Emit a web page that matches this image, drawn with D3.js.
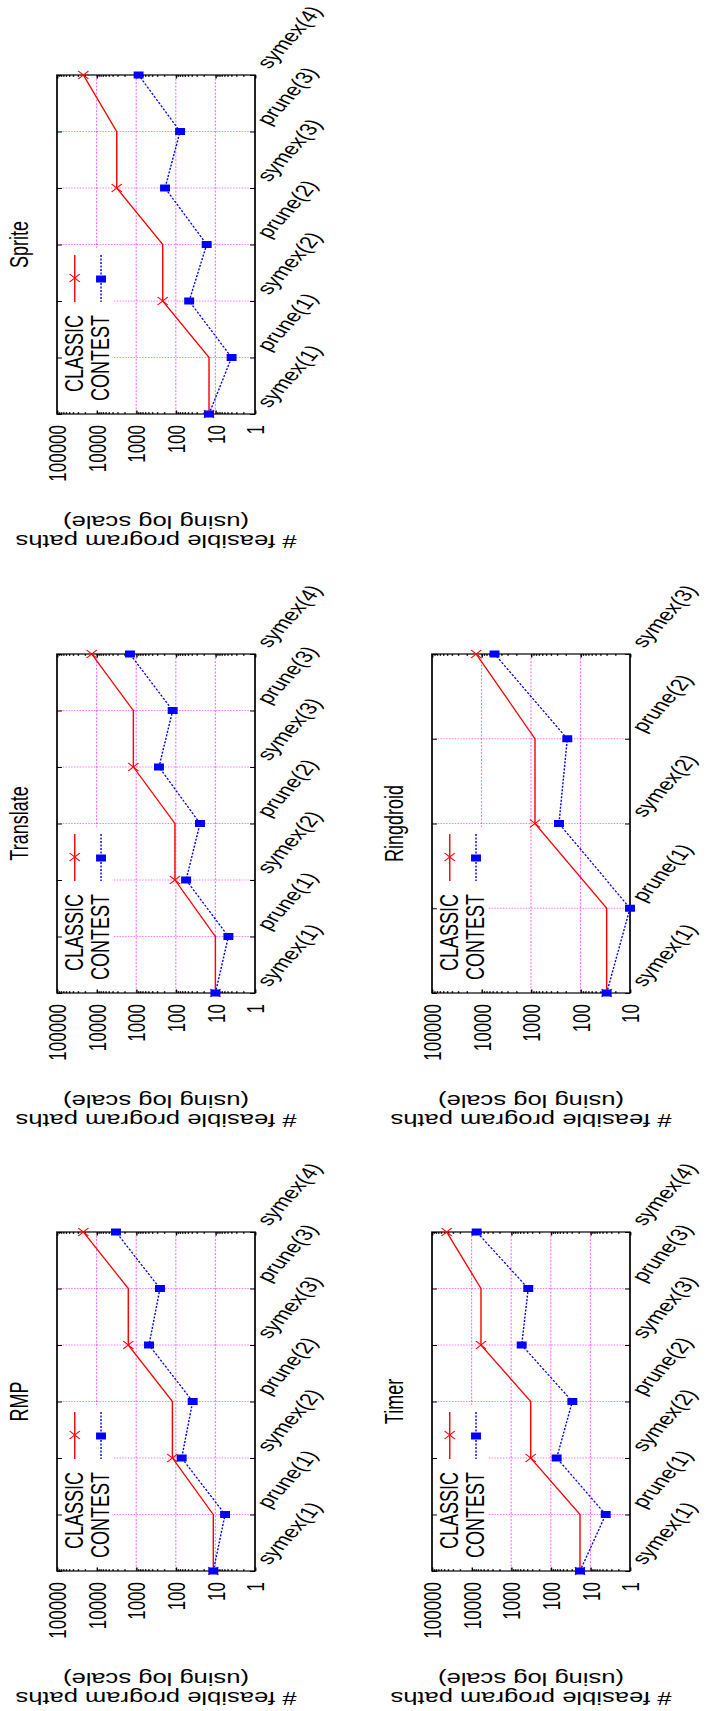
<!DOCTYPE html>
<html>
<head>
<meta charset="utf-8">
<script src="https://cdn.jsdelivr.net/npm/d3@7"></script>
<style>
  body { margin: 0; background: #fff; }
  text { font-family: "Liberation Sans", Arial, Helvetica, sans-serif; }
</style>
</head>
<body>
<div id="chart"></div>
<script>
// ----------------------------------------
// DATA

var stepsLong = ["symex(1)", "prune(1)", "symex(2)", "prune(2)", "symex(3)", "prune(3)", "symex(4)"];
var stepsShort = ["symex(1)", "prune(1)", "symex(2)", "prune(2)", "symex(3)"];
var ticksLong = [1, 10, 100, 1000, 10000, 100000];
var ticksShort = [10, 100, 1000, 10000, 100000];
var seriesNames = ["CLASSIC", "CONTEST"];

var spriteClassic = [14.5, 14.5, 214, 214, 3100, 3100, 21600];
var spriteContest = [14.5, 3.9, 46, 16.6, 187, 78, 870];

var translateClassic = [10, 10, 105, 105, 1180, 1180, 13300];
var translateContest = [10, 4.7, 55, 24.5, 266, 120, 1440];

var ringdroidClassic = [29.6, 29.6, 830, 830, 12800];
var ringdroidContest = [29.6, 10, 272, 185, 5460];

var rmpClassic = [11.3, 11.3, 122, 122, 1585, 1585, 21600];
var rmpContest = [11.3, 5.7, 71, 37.5, 475, 251, 3240];

var timerClassic = [18.3, 18.3, 322, 322, 5800, 5800, 42600];
var timerContest = [18.3, 4.1, 71, 28.6, 544, 371, 7450];

// ----------------------------------------
// LAYOUT

var SX = 1.42;          // the whole page is stretched sideways
var W = 198 / SX;       // inner box width
var H = 339;            // inner box height
var keyW = 56 / SX;
var keyTop = 173;

var panels = [
  {title: "Sprite", steps: stepsLong, ticks: ticksLong, classic: spriteClassic, contest: spriteContest, left: 57, top: 75},
  {title: "Translate", steps: stepsLong, ticks: ticksLong, classic: translateClassic, contest: translateContest, left: 57, top: 654},
  {title: "Ringdroid", steps: stepsShort, ticks: ticksShort, classic: ringdroidClassic, contest: ringdroidContest, left: 432, top: 654},
  {title: "RMP", steps: stepsLong, ticks: ticksLong, classic: rmpClassic, contest: rmpContest, left: 57, top: 1232},
  {title: "Timer", steps: stepsLong, ticks: ticksLong, classic: timerClassic, contest: timerContest, left: 432, top: 1232}
];

var svg = d3.select("#chart").append("svg")
  .attr("width", 718)
  .attr("height", 1711);

var crossPath = "M-3.6,-4L3.6,4M-3.6,4L3.6,-4";

panels.forEach(drawPanel);

function drawPanel(p) {
  var g = svg.append("g")
    .attr("transform", "translate(" + p.left + "," + p.top + ") scale(" + SX + ",1)");

  var x = d3.scaleLog().domain([p.ticks[0], p.ticks[p.ticks.length - 1]]).range([W, 0]);
  var y = d3.scalePoint().domain(p.steps).range([H, 0]);

  // minor log ticks
  var minor = [];
  for (var i = 0; i < p.ticks.length - 1; i++) {
    for (var m = 2; m < 10; m++) minor.push(p.ticks[i] * m);
  }

  // grid
  g.selectAll(".vgrid").data(p.ticks.slice(1, -1)).enter().append("line")
    .attr("x1", function (d) { return x(d); })
    .attr("x2", function (d) { return x(d); })
    .attr("y1", 0).attr("y2", H)
    .attr("stroke", "#ff00ff").attr("stroke-opacity", 0.55)
    .attr("stroke-width", 0.8).attr("stroke-dasharray", "2,1.5");

  g.selectAll(".hgrid").data(p.steps.slice(1, -1)).enter().append("line")
    .attr("x1", 0).attr("x2", W)
    .attr("y1", function (d) { return y(d); })
    .attr("y2", function (d) { return y(d); })
    .attr("stroke", "#ff00ff").attr("stroke-opacity", 0.55)
    .attr("stroke-width", 1.2).attr("stroke-dasharray", "1,1");

  // key background hides the grid
  g.append("rect")
    .attr("x", 0).attr("y", keyTop)
    .attr("width", keyW).attr("height", H - keyTop)
    .attr("fill", "#fff");

  // axes (ticks point inward)
  var bottom = g.append("g").attr("transform", "translate(0," + H + ")")
    .call(d3.axisBottom(x).tickValues(p.ticks).tickSize(-3.5).tickFormat(d3.format("d")));
  g.append("g").attr("transform", "translate(0," + H + ")")
    .call(d3.axisBottom(x).tickValues(minor).tickSize(-1.8).tickFormat(""));
  g.append("g")
    .call(d3.axisTop(x).tickValues(p.ticks).tickSize(-3.5).tickFormat(""));
  g.append("g")
    .call(d3.axisTop(x).tickValues(minor).tickSize(-1.8).tickFormat(""));
  var right = g.append("g").attr("transform", "translate(" + W + ",0)")
    .call(d3.axisRight(y).tickSize(-3.5));
  g.append("g")
    .call(d3.axisLeft(y).tickSize(-3.5).tickFormat(""));

  g.selectAll(".domain").remove();
  g.selectAll(".tick line").attr("stroke", "#000");

  bottom.selectAll("text")
    .attr("x", 0).attr("y", 0).attr("dy", "0.35em")
    .attr("transform", "rotate(-90) translate(-11,0)")
    .attr("text-anchor", "end")
    .attr("font-size", 17)
    .attr("fill", "#000")
    .style("font-family", "'Liberation Sans', Arial, sans-serif");

  right.selectAll("text")
    .attr("x", 0).attr("y", 0).attr("dy", 0)
    .attr("transform", "translate(10,-6) rotate(-57)")
    .attr("text-anchor", "start")
    .attr("font-size", 17)
    .attr("fill", "#000")
    .style("font-family", "'Liberation Sans', Arial, sans-serif");

  // border
  g.append("rect")
    .attr("x", 0).attr("y", 0).attr("width", W).attr("height", H)
    .attr("fill", "none").attr("stroke", "#000").attr("stroke-width", 1.2);

  // series
  var line = d3.line()
    .x(function (d) { return x(d.v); })
    .y(function (d) { return y(d.s); });

  var classic = p.steps.map(function (s, i) { return {s: s, v: p.classic[i]}; });
  var contest = p.steps.map(function (s, i) { return {s: s, v: p.contest[i]}; });

  g.append("path").attr("d", line(classic))
    .attr("fill", "none").attr("stroke", "#ff0000").attr("stroke-width", 1);
  g.append("path").attr("d", line(contest))
    .attr("fill", "none").attr("stroke", "#0000ff").attr("stroke-width", 1)
    .attr("stroke-dasharray", "2,1.5");

  // classic marks only where symex runs
  g.selectAll(".cross").data(classic.filter(function (d) { return d.s.indexOf("symex") === 0; }))
    .enter().append("path")
    .attr("transform", function (d) { return "translate(" + x(d.v) + "," + y(d.s) + ")"; })
    .attr("d", crossPath)
    .attr("stroke", "#ff0000").attr("stroke-width", 1).attr("fill", "none");

  g.selectAll(".sq").data(contest).enter().append("rect")
    .attr("x", function (d) { return x(d.v) - 3.5; })
    .attr("y", function (d) { return y(d.s) - 3.5; })
    .attr("width", 7).attr("height", 7)
    .attr("fill", "#0000ff");

  // key
  var kx = [12.5, 31];
  g.append("line").attr("x1", kx[0]).attr("x2", kx[0]).attr("y1", 180).attr("y2", 227)
    .attr("stroke", "#ff0000").attr("stroke-width", 1);
  g.append("path").attr("transform", "translate(" + kx[0] + ",203)").attr("d", crossPath)
    .attr("stroke", "#ff0000").attr("stroke-width", 1).attr("fill", "none");
  g.append("line").attr("x1", kx[1]).attr("x2", kx[1]).attr("y1", 180).attr("y2", 227)
    .attr("stroke", "#0000ff").attr("stroke-width", 1).attr("stroke-dasharray", "2,1.5");
  g.append("rect").attr("x", kx[1] - 3.5).attr("y", 200.5).attr("width", 7).attr("height", 7)
    .attr("fill", "#0000ff");

  seriesNames.forEach(function (name, i) {
    g.append("text")
      .attr("transform", "translate(" + (kx[i] - 0.5) + ",240) rotate(-90)")
      .attr("dy", "0.35em")
      .attr("text-anchor", "end")
      .attr("font-size", 18)
      .text(name);
  });

  // title
  g.append("text")
    .attr("transform", "translate(-27," + (H / 2) + ") rotate(-90)")
    .attr("dy", "0.35em")
    .attr("text-anchor", "middle")
    .attr("font-size", 18)
    .text(p.title);

  // value axis title (upside down)
  g.append("text")
    .attr("transform", "translate(" + (W / 2) + "," + (H + 127) + ") rotate(180)")
    .attr("dy", "0.35em")
    .attr("text-anchor", "middle")
    .attr("font-size", 18)
    .text("# feasible program paths");
  g.append("text")
    .attr("transform", "translate(" + (W / 2) + "," + (H + 108) + ") rotate(180)")
    .attr("dy", "0.35em")
    .attr("text-anchor", "middle")
    .attr("font-size", 18)
    .text("(using log scale)");
}
</script>
</body>
</html>
